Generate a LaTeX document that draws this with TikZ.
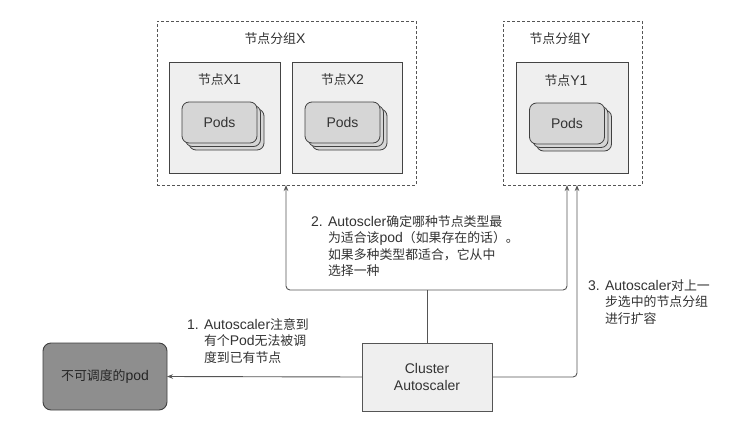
\documentclass[tikz,border=0pt]{standalone}
\usepackage{fontspec}
\setmainfont{Liberation Sans}
\newfontfamily\cjk[Scale=0.92]{Noto Sans CJK SC}
\newcommand\zh[1]{{\cjk #1}}
\usetikzlibrary{arrows.meta}
\definecolor{ln}{HTML}{555555}
\definecolor{txt}{HTML}{333333}
\definecolor{boxfill}{HTML}{EFEFEF}
\definecolor{podfill}{HTML}{D6D6D6}
\definecolor{badfill}{HTML}{8E8E8E}
\tikzset{
  group/.style={draw=ln, line width=0.8pt, dash pattern=on 3pt off 2pt, inner sep=0, outer sep=0},
  nodebox/.style={draw=ln!80!black, line width=0.9pt, fill=boxfill, inner sep=0, outer sep=0, minimum height=111},
  podcard/.style={draw=black!75, line width=0.8pt, fill=podfill, rounded corners=7pt, minimum width=75, minimum height=41, inner sep=0, outer sep=0},
  conn/.style={draw=ln, line width=0.9pt},
  tip/.style={-{Stealth[length=6pt,width=4.5pt]}},
  note/.style={align=left, inner sep=0, anchor=north west},
}
\begin{document}
\begin{tikzpicture}[x=1pt,y=-1pt, font=\fontsize{14}{16.5}\selectfont, text=txt]
\useasboundingbox (0,0) rectangle (742,426);
\fill[white] (0,0) rectangle (742,426);

% groups
\node[group, minimum width=259, minimum height=164] (gx) at (286.5,103) {};
\node[group, minimum width=139, minimum height=164] (gy) at (572.5,103) {};
\node (gxl) at (275,39) {\zh{节点分组}X};
\node (gyl) at (560,39) {\zh{节点分组}Y};

% nodes
\node[nodebox, minimum width=111] (x1) at (224.5,117.5) {};
\node[nodebox, minimum width=110] (x2) at (347,117.5) {};
\node[nodebox, minimum width=112] (y1) at (572,117.5) {};
\node (x1l) at (219.5,80) {\zh{节点}X1};
\node (x2l) at (342.5,80) {\zh{节点}X2};
\node (y1l) at (566,81) {\zh{节点}Y1};

% pods stacks
\node[podcard] (px1c) at (226.5,129.5) {};
\node[podcard] (px1b) at (223,126) {};
\node[podcard] (px1) at (219.5,122.5) {Pods};
\node[podcard] (px2c) at (349.5,129.5) {};
\node[podcard] (px2b) at (346,126) {};
\node[podcard] (px2) at (342.5,122.5) {Pods};
\node[podcard] (py1c) at (574,130.5) {};
\node[podcard] (py1b) at (570.5,127) {};
\node[podcard] (py1) at (567,123.5) {Pods};

% bottom boxes
\node[draw=black!75, line width=0.9pt, fill=badfill, rounded corners=8pt, minimum width=124, minimum height=67, inner sep=0, outer sep=0, text=black!85] (up) at (105,376.5) {\zh{不可调度的}pod};
\node[draw=ln, line width=0.9pt, fill=boxfill, minimum width=130, minimum height=68, inner sep=0, outer sep=0, align=center] (ca) at (427,377) {Cluster\\Autoscaler};

% connector points
\coordinate (j) at (427,290);
\coordinate (tx) at (286,185);
\coordinate (ty1) at (567,185);
\coordinate (ty2) at (577,185);

% connectors
\draw[conn, tip] (ca.west) -- (up.east);
\draw[conn] (ca.north) -- (j);
\draw[conn, {Stealth[length=6pt,width=4.5pt]}-{Stealth[length=6pt,width=4.5pt]}, rounded corners=4pt] (tx) |- (j) -| (ty1);
\draw[conn, tip, rounded corners=4pt] (ca.east) -| (ty2);

% notes
\node[note] (n1) at (187,318) {1. Autoscaler\zh{注意到}\\\phantom{1. }\zh{有个}Pod\zh{无法被调}\\\phantom{1. }\zh{度到已有节点}};
\node[note] (n2) at (311,215) {2. Autoscler\zh{确定哪种节点类型最}\\\phantom{2. }\zh{为适合该}pod\zh{（如果存在的话）。}\\\phantom{2. }\zh{如果多种类型都适合，它从中}\\\phantom{2. }\zh{选择一种}};
\node[note] (n3) at (588,279) {3. Autoscaler\zh{对上一}\\\phantom{3. }\zh{步选中的节点分组}\\\phantom{3. }\zh{进行扩容}};
\end{tikzpicture}
\end{document}
